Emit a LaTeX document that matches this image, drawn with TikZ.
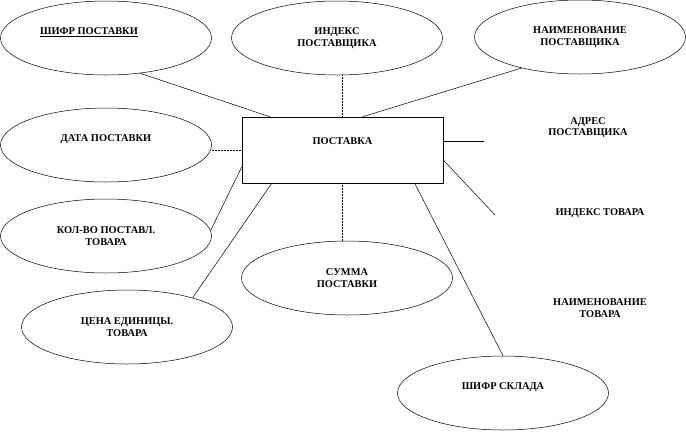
\documentclass[tikz,border=0pt]{standalone}
\usepackage{fontspec}
\setmainfont{Liberation Serif}
\usetikzlibrary{shapes.geometric}
\usetikzlibrary{positioning}
\tikzset{
  attr/.style = {draw, ellipse, line width=0.5pt, minimum width=211pt,
    minimum height=74pt, inner sep=0pt, align=center,
    font=\bfseries\fontsize{10.4}{12.5}\selectfont},% atribut
  raised/.style = {text height=7pt, text depth=14pt},% tekst vyshe centra
  entity/.style = {draw, rectangle, line width=0.6pt, minimum width=201pt,
    minimum height=66pt, inner sep=0pt, text height=7pt, text depth=18pt,
    font=\bfseries\fontsize{10.4}{12.5}\selectfont},% sushchnost
  plain/.style = {align=center, inner sep=0pt,
    font=\bfseries\fontsize{10.4}{11.5}\selectfont},% bez ramki
  link/.style = {line width=0.5pt},
  dlink/.style = {line width=0.5pt, densely dotted}
}

\begin{document}
\begin{tikzpicture}[x=1pt,y=-1pt]
\useasboundingbox (0,0) rectangle (686,432);

\node [entity] (post) at (342.5,150) {ПОСТАВКА};

\node [attr, raised] (shifr) at (106,38) {\underline{ШИФР ПОСТАВКИ}\hspace*{34pt}};
\node [attr] (indpost) at (337,38) {ИНДЕКС\\ПОСТАВЩИКА};
\node [attr] (naimpost) at (580,37) {НАИМЕНОВАНИЕ\\ПОСТАВЩИКА};
\node [attr, raised] (data) at (106,145) {ДАТА ПОСТАВКИ};
\node [attr] (kol) at (106,236) {КОЛ-ВО ПОСТАВЛ.\\ТОВАРА};
\node [attr] (cena) at (127,327) {ЦЕНА ЕДИНИЦЫ.\\ТОВАРА};
\node [attr] (summa) at (347,278) {СУММА\\ПОСТАВКИ};
\node [attr, raised] (sklad) at (503,393) {ШИФР СКЛАДА};

\node [plain] (adr) at (588,127.5) {АДРЕС\\ПОСТАВЩИКА};
\node [plain] (indtov) at (600,213) {ИНДЕКС ТОВАРА};
\node [plain] (naimtov) at (600,308) {НАИМЕНОВАНИЕ\\ТОВАРА};

\coordinate (adrend) at (484,141);
\coordinate (indend) at (495,215);

\draw[link] (shifr.-46) -- ([xshift=28]post.north west);
\draw[dlink] (post.north |- indpost.south) -- (post.north);
\draw[link] (naimpost.208) -- ([xshift=121]post.north west);
\draw[dlink] (data.east |- post.west) -- (post.west);
\draw[line width=0.8pt] ([yshift=9]post.east) -- (adrend);
\draw[link] ([yshift=-10]post.east) -- (indend);
\draw[link] ([yshift=-17]post.west) -- (kol.3);
\draw[link] ([xshift=30]post.south west) -- (cena.24);
\draw[dlink] (post.south) -- (post.south |- summa.north);
\draw[link] ([xshift=173]post.south west) -- (sklad.north);
\end{tikzpicture}
\end{document}
